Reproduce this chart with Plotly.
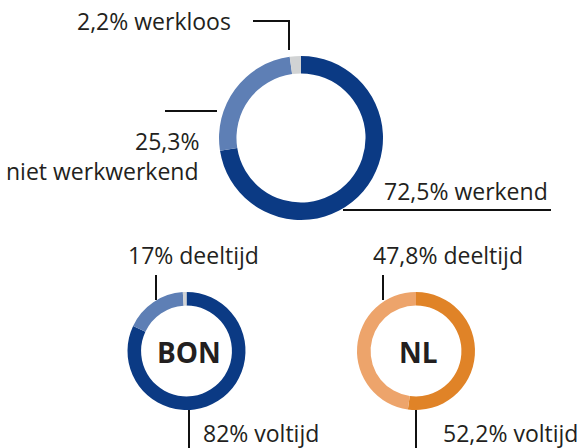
import plotly.graph_objects as go

W, H = 582, 448

top_labels = ["werkend", "niet werkwerkend", "werkloos"]
top_values = [72.5, 25.3, 2.2]
top_colors = ["#0b3a84", "#5e7fb5", "#d1d3d4"]

bon_labels = ["voltijd", "deeltijd", "onbekend"]
bon_values = [82, 17, 1]
bon_colors = ["#0b3a84", "#5e7fb5", "#d1d3d4"]

nl_labels = ["voltijd", "deeltijd"]
nl_values = [52.2, 47.8]
nl_colors = ["#e08327", "#eda46b"]

def px(x):
    return x / W

def py(y):
    return (H - y) / H

def dom(cx, cy, r):
    return dict(x=[px(cx - r), px(cx + r)], y=[py(cy + r), py(cy - r)])

fig = go.Figure()

def add_pie(labels, values, colors, cx, cy, r, hole):
    fig.add_trace(go.Pie(
        labels=labels, values=values, sort=False, direction="clockwise",
        rotation=0, hole=hole, textinfo="none", hoverinfo="label+value",
        marker=dict(colors=colors, line=dict(width=0)),
        domain=dom(cx, cy, r), showlegend=False,
    ))

add_pie(top_labels, top_values, top_colors, 301, 138, 82, 0.787)
add_pie(bon_labels, bon_values, bon_colors, 186.5, 351, 59, 0.77)
add_pie(nl_labels, nl_values, nl_colors, 416, 351, 59, 0.77)

def line(pts):
    path = "M " + " L ".join(f"{px(x)} {py(y)}" for x, y in pts)
    fig.add_shape(type="path", path=path, xref="paper", yref="paper",
                  line=dict(color="#111111", width=2))

line([(253, 21), (289, 21), (289, 50)])
line([(165, 111), (217, 111)])
line([(343, 210), (551, 210)])
line([(156, 275), (156, 300)])
line([(189, 410), (189, 450)])
line([(383, 275), (383, 300)])
line([(416, 410), (416, 450)])

FONT = "Open Sans"
TC = "#231f20"

def label(text, x, y, anchor, size=23, bold=False):
    fig.add_annotation(text=f"<b>{text}</b>" if bold else text,
                       x=px(x), y=py(y), xref="paper", yref="paper",
                       xanchor=anchor, yanchor="middle", showarrow=False,
                       font=dict(family=FONT, size=size, color=TC))

def pct(v):
    return f"{v:.1f}%".replace(".", ",")

label(pct(top_values[2]) + " werkloos", 233, 21, "right")
label(pct(top_values[1]), 201, 141, "right")
label(top_labels[1], 201, 171, "right")
label(pct(top_values[0]) + " " + top_labels[0], 382, 191, "left")
label(f"{bon_values[1]}% deeltijd", 126, 255, "left")
label(f"{bon_values[0]}% voltijd", 201, 433, "left")
label(pct(nl_values[1]) + " deeltijd", 371, 255, "left")
label(pct(nl_values[0]) + " voltijd", 441, 433, "left")
label("BON", 188.5, 352, "center", size=28, bold=True)
label("NL", 418.5, 352, "center", size=28, bold=True)

fig.update_layout(width=W, height=H, margin=dict(l=0, r=0, t=0, b=0),
                  paper_bgcolor="white", plot_bgcolor="white")
fig.write_html("out.html", config={"displayModeBar": False},
               post_script="document.body.style.margin='0';document.body.style.overflow='hidden';")
